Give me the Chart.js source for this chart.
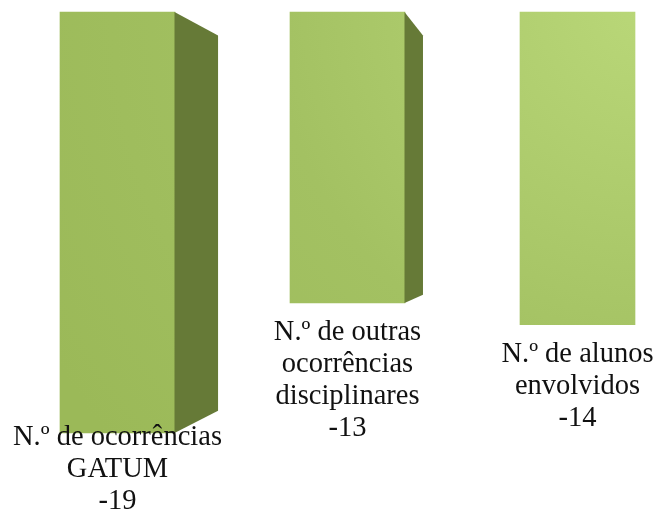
<!DOCTYPE html>
<html>
<head>
<meta charset="utf-8">
<script src="https://cdn.jsdelivr.net/npm/chart.js@4/dist/chart.umd.min.js"></script>
<style>
  html, body { margin: 0; padding: 0; background: #fff; overflow: hidden; }
  #wrap { width: 655px; height: 514px; }
</style>
</head>
<body>
<div id="wrap"><canvas id="my-chart" width="655" height="514"></canvas></div>
<script>
// data
const categories = [
  ["N.º de ocorrências", "GATUM"],
  ["N.º de outras", "ocorrências", "disciplinares"],
  ["N.º de alunos", "envolvidos"]
];
const values = [-19, -13, -14];

// fake 3d: back corners pulled toward a vanishing point
const vanish = { x: 570, y: 228 };
const depth = 0.109;
const topLip = 0.42; // front face starts a bit above the zero line
const sideColor = "#667a37";
const lineH = 32;

function frontFill(context) {
  const ctx = context.chart.ctx;
  const g = ctx.createRadialGradient(655, 0, 0, 655, 0, 700);
  g.addColorStop(0, "#bad879");
  g.addColorStop(0.55, "#a3c162");
  g.addColorStop(1, "#9bb958");
  return g;
}

const sideFaces = {
  id: "sideFaces",
  afterDatasetsDraw(chart) {
    const ctx = chart.ctx;
    const meta = chart.getDatasetMeta(0);
    ctx.save();
    meta.data.forEach(function (bar) {
      const right = bar.x + bar.width / 2;
      if (right >= vanish.x) return;
      const top = Math.min(bar.y, bar.base);
      const bottom = Math.max(bar.y, bar.base);
      const bx = right + (vanish.x - right) * depth;
      const bTop = top + (vanish.y - top) * depth;
      const bBot = bottom + (vanish.y - bottom) * depth;
      ctx.beginPath();
      ctx.moveTo(right - 0.5, top);
      ctx.lineTo(bx, bTop);
      ctx.lineTo(bx, bBot);
      ctx.lineTo(right - 0.5, bottom);
      ctx.closePath();
      ctx.fillStyle = sideColor;
      ctx.fill();
    });
    ctx.restore();
  }
};

const barLabels = {
  id: "barLabels",
  afterDatasetsDraw(chart) {
    const ctx = chart.ctx;
    const meta = chart.getDatasetMeta(0);
    ctx.save();
    ctx.font = "28.5px 'Liberation Serif', 'Times New Roman', serif";
    ctx.fillStyle = "#111";
    ctx.textAlign = "center";
    ctx.textBaseline = "middle";
    meta.data.forEach(function (bar, i) {
      const lines = categories[i].concat([String(values[i])]);
      const bottom = Math.max(bar.y, bar.base);
      let y = bottom + 30;
      const maxStart = chart.height - 12 - (lines.length - 1) * lineH;
      if (y > maxStart) y = maxStart;
      lines.forEach(function (t, k) {
        ctx.fillText(t, bar.x, y + k * lineH);
      });
    });
    ctx.restore();
  }
};

const ctx = document.getElementById("my-chart").getContext("2d");
const chart = new Chart(ctx, {
  type: "bar",
  data: {
    labels: categories,
    datasets: [
      {
        data: values,
        base: topLip,
        backgroundColor: frontFill,
        borderWidth: 0,
        barThickness: 115,
        clip: false
      }
    ]
  },
  options: {
    responsive: false,
    animation: false,
    layout: { padding: { left: 117.5, right: 77.5, top: 12, bottom: 81 } },
    plugins: { legend: { display: false }, tooltip: { enabled: false } },
    scales: {
      x: { display: false, offset: false },
      y: { display: false, min: -19, max: topLip }
    }
  },
  plugins: [sideFaces, barLabels]
});
</script>
</body>
</html>
